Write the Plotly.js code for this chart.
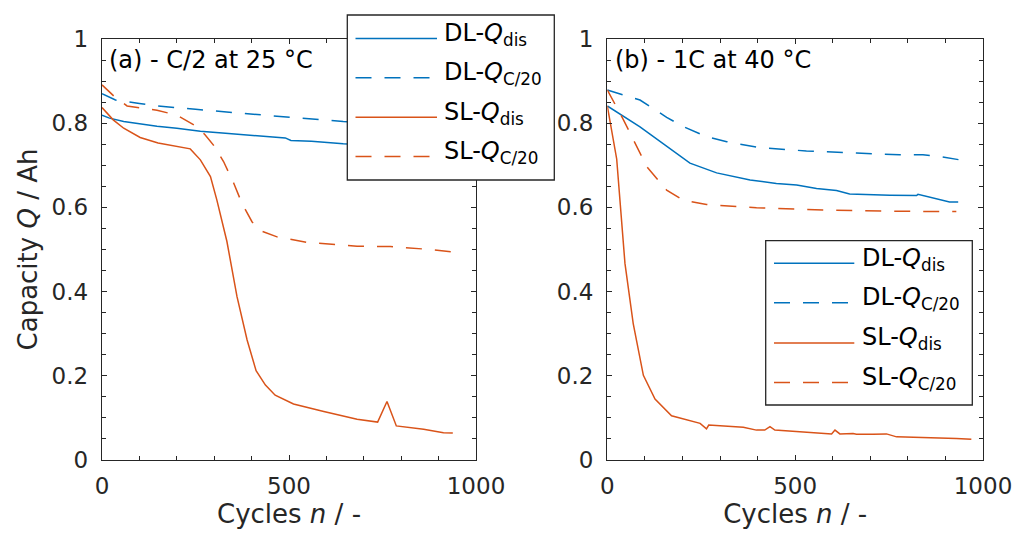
<!DOCTYPE html>
<html>
<head>
<meta charset="utf-8">
<script src="https://cdn.plot.ly/plotly-3.0.1.min.js"></script>
<style>html,body{margin:0;padding:0;background:#fff;}#chart{width:1014px;height:534px;}</style>
</head>
<body>
<div id="chart"></div>
<script>
// ---------- Data ----------
// Panel (a): C/2 at 25 °C
const a_DL_dis_n = [0, 20, 58, 100, 147, 200, 263, 330, 414, 490, 505, 560, 645, 750, 850, 950];
const a_DL_dis_Q = [0.819, 0.812, 0.804, 0.798, 0.793, 0.788, 0.781, 0.776, 0.770, 0.765, 0.759, 0.757, 0.751, 0.746, 0.741, 0.737];

const a_DL_c20_n = [0, 36, 100, 147, 250, 325, 420, 503, 580, 645, 750, 850, 950];
const a_DL_c20_Q = [0.870, 0.855, 0.847, 0.841, 0.833, 0.827, 0.820, 0.814, 0.809, 0.804, 0.799, 0.795, 0.791];

const a_SL_dis_n = [0, 30, 58, 102, 150, 191, 236, 263, 290, 307, 334, 361, 388, 412, 437, 463, 512, 593, 682, 737, 762, 787, 860, 913, 938];
const a_SL_dis_Q = [0.837, 0.808, 0.788, 0.766, 0.753, 0.747, 0.739, 0.713, 0.673, 0.618, 0.519, 0.388, 0.285, 0.212, 0.178, 0.154, 0.133, 0.115, 0.097, 0.090, 0.139, 0.081, 0.073, 0.065, 0.064];

const a_SL_c20_n = [0, 36, 67, 147, 200, 254, 276, 298, 325, 352, 374, 401, 423, 468, 548, 682, 771, 878, 949];
const a_SL_c20_Q = [0.891, 0.861, 0.841, 0.831, 0.819, 0.792, 0.772, 0.748, 0.709, 0.658, 0.610, 0.566, 0.545, 0.530, 0.517, 0.508, 0.507, 0.500, 0.493];

// Panel (b): 1C at 40 °C
const b_DL_dis_n = [0, 87, 220, 291, 380, 450, 504, 557, 610, 645, 752, 823, 827, 876, 911, 934];
const b_DL_dis_Q = [0.841, 0.791, 0.705, 0.682, 0.665, 0.657, 0.653, 0.645, 0.640, 0.632, 0.629, 0.628, 0.631, 0.621, 0.613, 0.613];

const b_DL_c20_n = [0, 87, 158, 202, 264, 318, 406, 530, 663, 778, 840, 885, 951];
const b_DL_c20_Q = [0.879, 0.855, 0.814, 0.792, 0.768, 0.756, 0.742, 0.734, 0.729, 0.725, 0.725, 0.721, 0.711];

const b_SL_dis_n = [0, 25, 47, 69, 96, 127, 171, 247, 264, 270, 362, 397, 419, 433, 446, 521, 597, 606, 619, 654, 663, 707, 743, 770, 840, 929, 969];
const b_SL_dis_Q = [0.841, 0.715, 0.467, 0.324, 0.201, 0.145, 0.105, 0.087, 0.074, 0.083, 0.078, 0.071, 0.071, 0.079, 0.071, 0.066, 0.062, 0.071, 0.062, 0.063, 0.061, 0.061, 0.062, 0.055, 0.054, 0.051, 0.049];

const b_SL_c20_n = [0, 43, 105, 158, 202, 264, 397, 574, 752, 929];
const b_SL_c20_Q = [0.879, 0.808, 0.697, 0.641, 0.617, 0.607, 0.599, 0.594, 0.591, 0.590];

const seriesNames = ['DL-<i>Q</i><sub>dis</sub>', 'DL-<i>Q</i><sub>C/20</sub>', 'SL-<i>Q</i><sub>dis</sub>', 'SL-<i>Q</i><sub>C/20</sub>'];
const panelLabels = ['(a) - C/2 at 25 °C', '(b) - 1C at 40 °C'];
const yTickVals = [0, 0.2, 0.4, 0.6, 0.8, 1];
const yTickText = ['0', '0.2', '0.4', '0.6', '0.8', '1'];
const xTickVals = [0, 500, 1000];
const xTickText = ['0', '500', '1000'];

// ---------- Styles ----------
const BLUE = '#0072BD', ORANGE = '#D95319', INK = '#262626';
const FONT = 'DejaVu Sans, Liberation Sans, Arial, sans-serif';
const DASH = '16px,13px';
const LW = 1.5;
const styles = [
  {color: BLUE, dash: 'solid'},
  {color: BLUE, dash: DASH},
  {color: ORANGE, dash: 'solid'},
  {color: ORANGE, dash: DASH}
];

function tr(x, y, s, xa, ya, name) {
  return {x: x, y: y, type: 'scatter', mode: 'lines', name: name, showlegend: false,
    xaxis: xa, yaxis: ya, line: {color: s.color, dash: s.dash, width: LW}, hoverinfo: 'skip'};
}

const data = [
  tr(a_DL_dis_n, a_DL_dis_Q, styles[0], 'x', 'y', seriesNames[0]),
  tr(a_DL_c20_n, a_DL_c20_Q, styles[1], 'x', 'y', seriesNames[1]),
  tr(a_SL_dis_n, a_SL_dis_Q, styles[2], 'x', 'y', seriesNames[2]),
  tr(a_SL_c20_n, a_SL_c20_Q, styles[3], 'x', 'y', seriesNames[3]),
  tr(b_DL_dis_n, b_DL_dis_Q, styles[0], 'x2', 'y2', seriesNames[0]),
  tr(b_DL_c20_n, b_DL_c20_Q, styles[1], 'x2', 'y2', seriesNames[1]),
  tr(b_SL_dis_n, b_SL_dis_Q, styles[2], 'x2', 'y2', seriesNames[2]),
  tr(b_SL_c20_n, b_SL_c20_Q, styles[3], 'x2', 'y2', seriesNames[3])
];

// ---------- Layout geometry (pixels -> paper) ----------
const W = 1014, H = 534;
const M = {l: 102, r: 31, t: 39, b: 74};
const PW = W - M.l - M.r, PH = H - M.t - M.b;
const px = v => (v - M.l) / PW;
const py = v => (H - M.b - v) / PH;

function xAxis(domain, anchor) {
  return {
    domain: domain, anchor: anchor, range: [0, 1000],
    tickmode: 'array', tickvals: xTickVals, ticktext: xTickText,
    ticks: 'inside', ticklen: 5, tickwidth: 1, tickcolor: INK,
    minor: {dtick: 100, ticks: 'inside', ticklen: 4, tickcolor: INK, tickwidth: 1},
    showline: true, linecolor: INK, linewidth: 1.3, mirror: 'ticks',
    showgrid: false, zeroline: false, fixedrange: true,
    tickfont: {family: FONT, size: 23, color: INK},
    ticklabelstandoff: 5,
    title: {text: 'Cycles <i>n</i> / -', font: {family: FONT, size: 26, color: INK}, standoff: 5}
  };
}
function yAxis(anchor, showTitle) {
  const ax = {
    anchor: anchor, range: [0, 1], domain: [0, 1],
    tickmode: 'array', tickvals: yTickVals, ticktext: yTickText,
    ticks: 'inside', ticklen: 5, tickwidth: 1, tickcolor: INK,
    minor: {dtick: 0.05, ticks: 'inside', ticklen: 4, tickcolor: INK, tickwidth: 1},
    showline: true, linecolor: INK, linewidth: 1.3, mirror: 'ticks',
    showgrid: false, zeroline: false, fixedrange: true,
    tickfont: {family: FONT, size: 23, color: INK},
    ticklabelstandoff: 8
  };
  if (showTitle) ax.title = {text: 'Capacity <i>Q</i> / Ah', font: {family: FONT, size: 26, color: INK}, standoff: 6};
  return ax;
}

// Manual legends (boxes, line samples and labels)
const legends = [
  {box: [347.3, 15, 554.3, 180], line: [355.5, 437], rows: [38.5, 77.8, 117.2, 156.6], textX: 442},
  {box: [765.7, 240.7, 972.3, 405], line: [774, 854.3], rows: [263.3, 302.7, 343, 382.5], textX: 860}
];
const shapes = [];
const annotations = [];
legends.forEach(L => {
  shapes.push({type: 'rect', xref: 'paper', yref: 'paper', layer: 'above',
    x0: px(L.box[0]), x1: px(L.box[2]), y0: py(L.box[3]), y1: py(L.box[1]),
    fillcolor: '#ffffff', line: {color: INK, width: 1.3}});
  L.rows.forEach((ry, i) => {
    shapes.push({type: 'line', xref: 'paper', yref: 'paper', layer: 'above',
      x0: px(L.line[0]), x1: px(L.line[1]), y0: py(ry), y1: py(ry),
      line: {color: styles[i].color, dash: styles[i].dash, width: LW}});
    annotations.push({xref: 'paper', yref: 'paper', x: px(L.textX), y: py(ry - 4),
      xanchor: 'left', yanchor: 'middle', showarrow: false, text: seriesNames[i],
      font: {family: FONT, size: 24, color: '#000'}});
  });
});
annotations.push({xref: 'paper', yref: 'paper', x: px(107), y: py(60), xanchor: 'left', yanchor: 'middle',
  showarrow: false, text: panelLabels[0], font: {family: FONT, size: 24, color: '#000'}});
annotations.push({xref: 'paper', yref: 'paper', x: px(613), y: py(60), xanchor: 'left', yanchor: 'middle',
  showarrow: false, text: panelLabels[1], font: {family: FONT, size: 24, color: '#000'}});

const layout = {
  width: W, height: H, margin: M,
  paper_bgcolor: '#ffffff', plot_bgcolor: '#ffffff',
  font: {family: FONT, color: INK},
  showlegend: false,
  xaxis: xAxis([0, px(476)], 'y'),
  yaxis: yAxis('x', true),
  xaxis2: xAxis([px(607.3), 1], 'y2'),
  yaxis2: yAxis('x2', false),
  shapes: shapes,
  annotations: annotations
};

Plotly.newPlot('chart', data, layout, {staticPlot: true, displayModeBar: false});
</script>
</body>
</html>
